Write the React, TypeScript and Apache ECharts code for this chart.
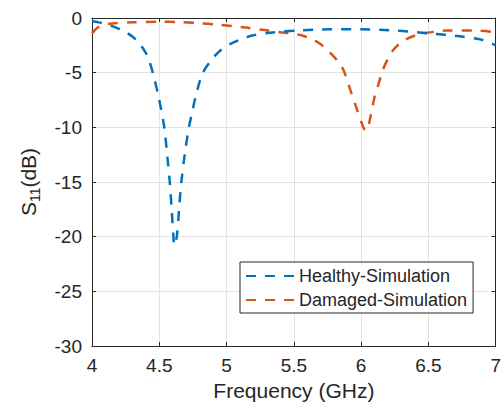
import React, { useEffect, useRef } from "react";
import * as echarts from "echarts";

const freqHealthy = [4.0, 4.05, 4.1, 4.15, 4.2, 4.25, 4.3, 4.35, 4.4, 4.43, 4.46, 4.5, 4.537, 4.56, 4.578, 4.592, 4.605, 4.612, 4.63, 4.647, 4.664, 4.69, 4.72, 4.745, 4.77, 4.82, 4.89, 4.96, 5.04, 5.12, 5.19, 5.36, 5.53, 5.77, 6.0, 6.26, 6.5, 6.75, 6.9, 7.0];
const s11Healthy = [-0.3, -0.4, -0.55, -0.75, -1.0, -1.3, -1.7, -2.3, -3.2, -4.1, -5.4, -7.5, -10, -12.7, -15, -17.5, -20, -20.8, -20, -17.5, -15, -12.4, -10, -8.6, -7.2, -5.1, -3.8, -2.9, -2.3, -1.9, -1.6, -1.3, -1.15, -1.04, -1.04, -1.15, -1.4, -1.7, -2.0, -2.5];

const freqDamaged = [4.0, 4.04, 4.08, 4.15, 4.3, 4.5, 4.65, 4.79, 4.92, 5.04, 5.16, 5.28, 5.4, 5.48, 5.56, 5.63, 5.7, 5.77, 5.83, 5.87, 5.92, 5.97, 6.02, 6.04, 6.07, 6.1, 6.13, 6.16, 6.2, 6.24, 6.29, 6.34, 6.4, 6.46, 6.55, 6.63, 6.84, 7.0];
const s11Damaged = [-1.4, -0.9, -0.64, -0.5, -0.4, -0.34, -0.38, -0.47, -0.6, -0.73, -0.9, -1.1, -1.3, -1.4, -1.6, -1.9, -2.4, -3.2, -4.0, -4.8, -6.6, -8.4, -10.1, -10.3, -9.0, -7.2, -6.0, -4.8, -3.7, -2.9, -2.3, -1.9, -1.6, -1.4, -1.25, -1.15, -1.15, -1.3];

const seriesNames = ["Healthy-Simulation", "Damaged-Simulation"];
const seriesColors = ["#0072BD", "#D95319"];

const xMin = 4, xMax = 7, xStep = 0.5;
const yMin = -30, yMax = 0, yStep = 5;

const FONT = "'Liberation Sans', Arial, sans-serif";
const AX = "#262626";

export default function App() {
  const ref = useRef<HTMLDivElement>(null);
  useEffect(() => {
    if (!ref.current) return;
    const chart = echarts.init(ref.current, undefined, { renderer: "svg" });
    const pairs = (xs: number[], ys: number[]) => xs.map((x, i) => [x, ys[i]]);
    const axisCommon = {
      type: "value" as const,
      axisLine: { show: true, onZero: false, lineStyle: { color: AX, width: 1 } },
      axisTick: { show: true, inside: true, length: 4, lineStyle: { color: AX } },
    };
    chart.setOption({
      animation: false,
      textStyle: { fontFamily: FONT, color: AX },
      grid: { left: 92, top: 18, width: 408, height: 328 },
      xAxis: [
        {
          ...axisCommon,
          min: xMin, max: xMax, interval: xStep,
          position: "bottom",
          axisLabel: { fontSize: 19, color: AX, margin: 10, fontFamily: FONT },
          splitLine: { show: true, lineStyle: { color: "#e3e3e3", width: 1 } },
          name: "Frequency (GHz)",
          nameLocation: "middle",
          nameGap: 34,
          nameTextStyle: { fontSize: 21, color: AX, fontFamily: FONT },
        },
        {
          ...axisCommon,
          min: xMin, max: xMax, interval: xStep,
          position: "top",
          axisLabel: { show: false },
          splitLine: { show: false },
        },
      ],
      yAxis: [
        {
          ...axisCommon,
          min: yMin, max: yMax, interval: yStep,
          position: "left",
          axisLabel: { fontSize: 19, color: AX, margin: 10, fontFamily: FONT },
          splitLine: { show: true, lineStyle: { color: "#e3e3e3", width: 1 } },
          name: "{a|S}{b|11}{a|(dB)}",
          nameLocation: "middle",
          nameGap: 52,
          nameTextStyle: {
            fontSize: 21,
            color: AX,
            fontFamily: FONT,
            rich: {
              a: { fontSize: 21, lineHeight: 22, verticalAlign: "top", color: AX, fontFamily: FONT },
              b: { fontSize: 14, lineHeight: 14, padding: [10, 0, 0, 0], verticalAlign: "top", color: AX, fontFamily: FONT },
            },
          },
        },
        {
          ...axisCommon,
          min: yMin, max: yMax, interval: yStep,
          position: "right",
          axisLabel: { show: false },
          splitLine: { show: false },
        },
      ],
      legend: {
        show: true,
        left: 240,
        top: 262,
        orient: "vertical",
        backgroundColor: "#ffffff",
        borderColor: AX,
        borderWidth: 1,
        borderRadius: 0,
        padding: [4, 6, 3, 5],
        itemWidth: 50,
        itemHeight: 14,
        itemGap: 4,
        itemStyle: { opacity: 0 },
        textStyle: { fontSize: 18, lineHeight: 20, color: AX, fontFamily: FONT, padding: [0, 0, 0, -2] },
        data: seriesNames,
      },
      series: [
        {
          name: seriesNames[0],
          type: "line",
          data: pairs(freqHealthy, s11Healthy),
          symbol: "none",
          smooth: 0.3,
          lineStyle: { color: seriesColors[0], width: 2.5, type: [10, 9] },
          itemStyle: { color: seriesColors[0] },
          z: 3,
        },
        {
          name: seriesNames[1],
          type: "line",
          data: pairs(freqDamaged, s11Damaged),
          symbol: "none",
          smooth: 0.3,
          lineStyle: { color: seriesColors[1], width: 2.5, type: [10, 9] },
          itemStyle: { color: seriesColors[1] },
          z: 2,
        },
      ],
    });
    return () => chart.dispose();
  }, []);
  return <div ref={ref} style={{ width: 504, height: 410, position: "absolute", left: 0, top: 0, background: "#fff" }} />;
}
